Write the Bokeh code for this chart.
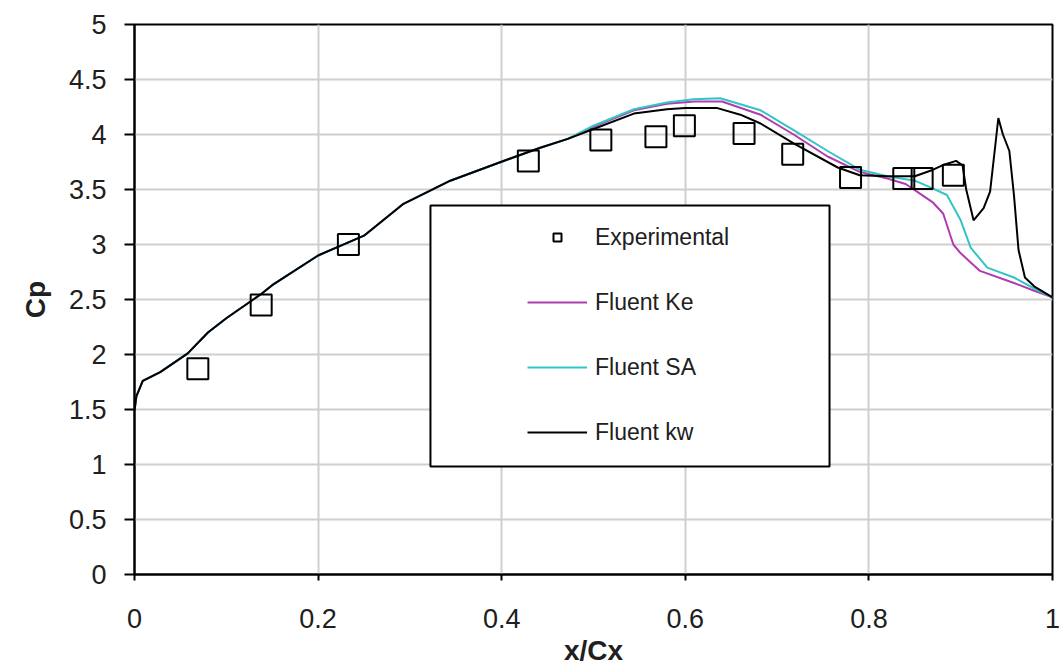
from bokeh.plotting import figure
from bokeh.models import Legend, LegendItem, BoxAnnotation, FixedTicker, Title
from bokeh.embed import file_html
from bokeh.resources import INLINE

# Experimental data
x_exp = [0.069, 0.138, 0.233, 0.429, 0.508, 0.568, 0.599, 0.664, 0.717, 0.780, 0.838, 0.858, 0.892]
y_exp = [1.87, 2.45, 3.00, 3.76, 3.95, 3.98, 4.08, 4.01, 3.82, 3.61, 3.60, 3.60, 3.63]

# Common leading part of the CFD curves
x_lead = [0.0, 0.002, 0.009, 0.028, 0.058, 0.08, 0.1, 0.138, 0.15, 0.2, 0.233, 0.25,
          0.293, 0.344, 0.399, 0.442, 0.472]
y_lead = [1.49, 1.62, 1.76, 1.84, 2.01, 2.20, 2.33, 2.55, 2.63, 2.90, 3.02, 3.08,
          3.37, 3.58, 3.75, 3.88, 3.96]

# Fluent kw
x_kw = x_lead + [0.5, 0.544, 0.58, 0.6, 0.635, 0.66, 0.682, 0.718, 0.766, 0.79, 0.82, 0.85,
                 0.87, 0.88, 0.895, 0.902, 0.906, 0.914, 0.925, 0.932, 0.937, 0.941, 0.946,
                 0.953, 0.958, 0.963, 0.97, 0.98, 0.99, 1.0]
y_kw = y_lead + [4.05, 4.19, 4.23, 4.24, 4.24, 4.18, 4.10, 3.92, 3.70, 3.63, 3.62, 3.62,
                 3.68, 3.72, 3.76, 3.72, 3.50, 3.22, 3.33, 3.48, 3.85, 4.15, 4.00,
                 3.85, 3.45, 2.95, 2.70, 2.62, 2.57, 2.52]

# Fluent Ke
x_ke = x_lead + [0.5, 0.544, 0.58, 0.61, 0.64, 0.682, 0.718, 0.755, 0.79, 0.82, 0.84, 0.856,
                 0.87, 0.881, 0.888, 0.892, 0.9, 0.921, 0.958, 0.98, 1.0]
y_ke = y_lead + [4.07, 4.22, 4.28, 4.30, 4.30, 4.18, 4.00, 3.80, 3.66, 3.60, 3.55, 3.46,
                 3.38, 3.28, 3.10, 3.00, 2.92, 2.76, 2.65, 2.58, 2.52]

# Fluent SA
x_sa = x_lead + [0.5, 0.544, 0.58, 0.609, 0.638, 0.682, 0.718, 0.755, 0.79, 0.82, 0.85, 0.867,
                 0.885, 0.9, 0.911, 0.929, 0.958, 0.98, 1.0]
y_sa = y_lead + [4.08, 4.23, 4.29, 4.32, 4.33, 4.22, 4.04, 3.85, 3.68, 3.62, 3.58, 3.52,
                 3.45, 3.22, 2.97, 2.79, 2.70, 2.60, 2.52]

x_ticks = [0, 0.2, 0.4, 0.6, 0.8, 1]
y_ticks = [0, 0.5, 1, 1.5, 2, 2.5, 3, 3.5, 4, 4.5, 5]

FONT = "Liberation Sans"

p = figure(width=1062, height=671, output_backend="svg", toolbar_location=None,
           x_range=(0, 1), y_range=(0, 5),
           min_border_left=134, min_border_right=10, min_border_top=24, min_border_bottom=97)
p.background_fill_color = "white"
p.border_fill_color = "white"
p.outline_line_color = "black"
p.outline_line_width = 2

p.xaxis.ticker = FixedTicker(ticks=x_ticks)
p.yaxis.ticker = FixedTicker(ticks=y_ticks)
p.xaxis.major_label_overrides = {0: "0", 1: "1"}
p.yaxis.major_label_overrides = {0: "0", 1: "1", 2: "2", 3: "3", 4: "4", 5: "5"}

for ax in (p.xaxis, p.yaxis):
    ax.axis_line_width = 2
    ax.axis_line_color = "black"
    ax.major_tick_line_color = "black"
    ax.major_tick_line_width = 2
    ax.major_tick_in = 0
    ax.minor_tick_line_color = None
    ax.major_label_text_font = FONT
    ax.major_label_text_font_size = "27px"
    ax.major_label_text_color = "#202020"
    ax.axis_label_text_font = FONT
    ax.axis_label_text_font_style = "bold"
    ax.axis_label_text_color = "#202020"

p.xaxis.major_tick_out = 6
p.yaxis.major_tick_out = 10
p.xaxis.major_label_standoff = 28
p.yaxis.major_label_standoff = 18
p.xaxis.axis_label = "x/Cx"
p.xaxis.axis_label_text_font_size = "28px"
p.xaxis.axis_label_standoff = 4

# y-axis title as a side title, shifted down a bit like the original
p.add_layout(Title(text="Cp", align="center", offset=27, standoff=30,
                   text_font=FONT, text_font_style="bold", text_font_size="28px",
                   text_color="#202020"), "left")

p.xgrid.grid_line_color = "#cfcfcf"
p.ygrid.grid_line_color = "#cfcfcf"
p.xgrid.grid_line_width = 2
p.ygrid.grid_line_width = 2

r_ke = p.line(x_ke, y_ke, line_color="#b03cb0", line_width=2)
r_sa = p.line(x_sa, y_sa, line_color="#33c4c4", line_width=2)
r_kw = p.line(x_kw, y_kw, line_color="black", line_width=2)
r_exp = p.scatter(x_exp, y_exp, marker="square", size=21, fill_color=None,
                  line_color="black", line_width=2)

box = BoxAnnotation(left=0.3224, right=0.7571, bottom=0.982, top=3.3545,
                    fill_color="white", fill_alpha=1.0,
                    line_color="black", line_width=2, line_alpha=1.0)
p.add_layout(box)

legend = Legend(items=[
    LegendItem(label="Experimental", renderers=[r_exp]),
    LegendItem(label="Fluent Ke", renderers=[r_ke]),
    LegendItem(label="Fluent SA", renderers=[r_sa]),
    LegendItem(label="Fluent kw", renderers=[r_kw]),
], location=(383, 118))
legend.border_line_alpha = 0
legend.background_fill_alpha = 0
legend.padding = 10
legend.spacing = 37
legend.glyph_width = 60
legend.glyph_height = 20
legend.label_height = 28
legend.label_standoff = 8
legend.label_text_font = FONT
legend.label_text_font_size = "23px"
legend.label_text_color = "#202020"
legend.margin = 0
p.add_layout(legend)

open("out.html", "w").write(file_html(p, INLINE))
